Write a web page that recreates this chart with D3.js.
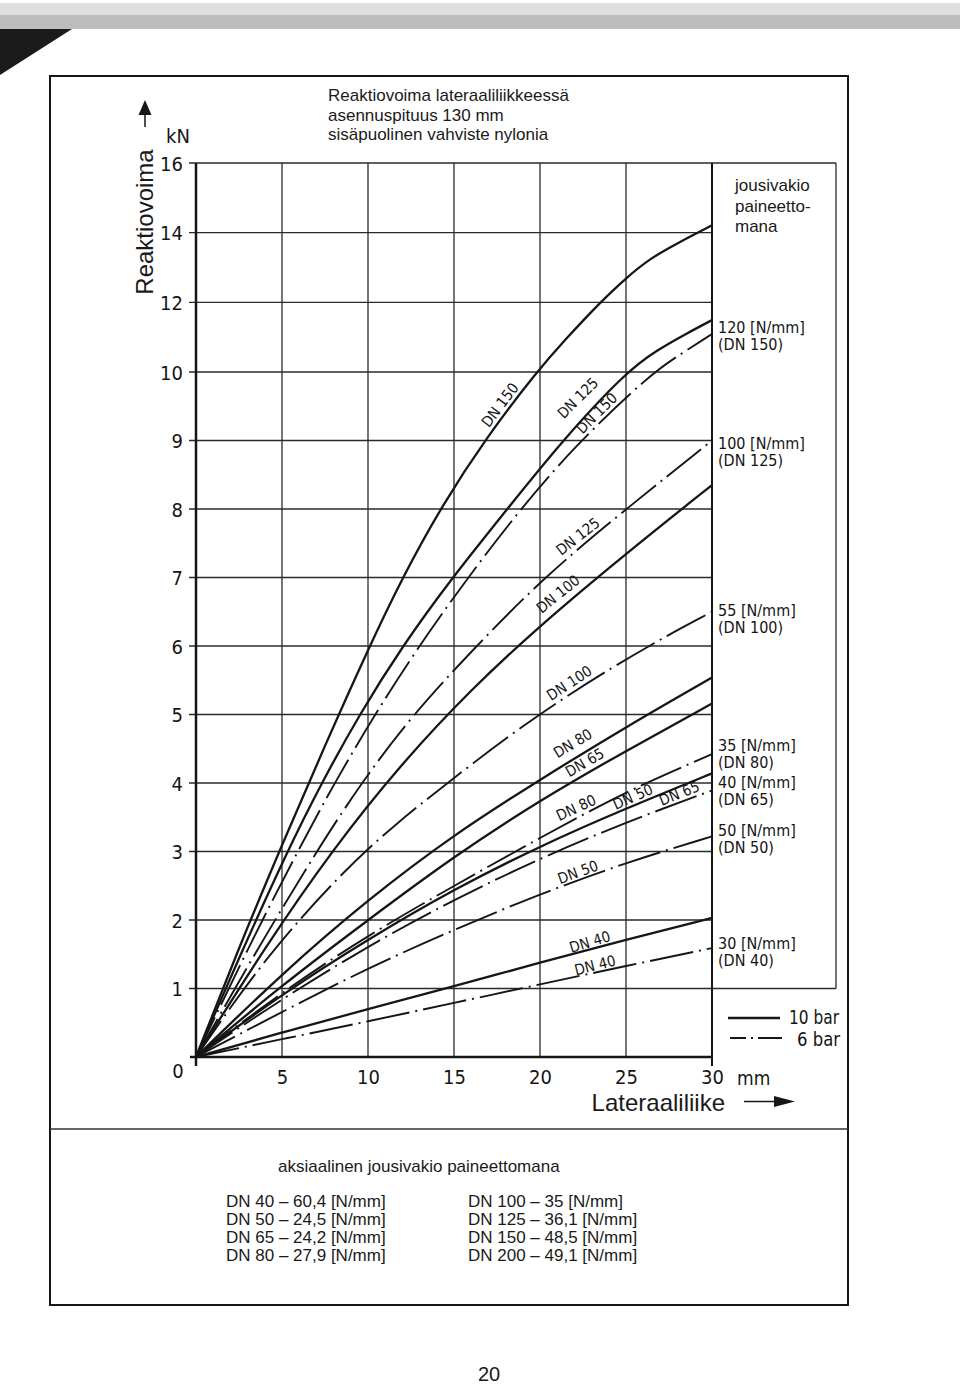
<!DOCTYPE html>
<html>
<head>
<meta charset="utf-8">
<script src="https://cdn.jsdelivr.net/npm/d3@7"></script>
<style>
  body { margin: 0; background: #fff; }
  svg { display: block; }
  .din { font-family: 'Liberation Sans Narrow', 'DejaVu Sans Condensed', sans-serif; fill: #151515; }
  .arial { font-family: 'Liberation Sans', Arial, sans-serif; fill: #1a1a1a; }
</style>
</head>
<body>
<svg id="chart" width="960" height="1386"></svg>
<script>
/* Reaktiovoima vs lateraaliliike: 10 bar (solid) and 6 bar (dash-dot) curves per DN */
(function () {
  // --- Data: [lateral movement mm, reaction force kN] ---
  const X_TICKS = [5, 10, 15, 20, 25, 30];
  const Y_TICKS = [1, 2, 3, 4, 5, 6, 7, 8, 9, 10, 12, 14, 16];

  // 10 bar (solid)
  const dn150_10bar = [[0,0],[2.5,1.6],[5,3.1],[7.5,4.55],[10,5.95],[12,7],[14.3,8.05],[16.9,9.05],[19.8,10],[21.5,10.95],[23.5,12],[25,12.7],[26.4,13.26],[28,13.7],[30,14.21]];
  const dn125_10bar = [[0,0],[2.5,1.45],[5.3,3],[7.3,4],[9.5,5],[12,6],[14.9,7],[18.1,8],[21.3,9],[25,10],[26.8,10.63],[28.5,11.1],[30,11.49]];
  const dn100_10bar = [[0,0],[4,1.6],[8,3.05],[12,4.3],[16,5.37],[20,6.3],[25,7.35],[30,8.35]];
  const dn80_10bar  = [[0,0],[5,1.22],[10,2.3],[15,3.25],[20,4.05],[25,4.82],[30,5.54]];
  const dn65_10bar  = [[0,0],[5,1.05],[10,2.0],[15,2.93],[20,3.75],[25,4.47],[30,5.16]];
  const dn50_10bar  = [[0,0],[5,0.92],[10,1.72],[15,2.45],[20,3.08],[25,3.63],[30,4.14]];
  const dn40_10bar  = [[0,0],[5,0.36],[10,0.70],[15,1.03],[20,1.38],[25,1.71],[30,2.03]];

  // 6 bar (dash-dot)
  const dn150_6bar = [[0,0],[3,1.58],[5.9,3],[8.2,4.07],[10.5,5.04],[12.8,5.94],[15.6,6.93],[18.7,7.95],[21.9,8.89],[26.4,9.97],[28.3,10.55],[30,11.09]];
  const dn125_6bar = [[0,0],[3.5,1.55],[7,3],[9.6,4],[12.6,5],[16.3,6],[20.2,7],[25,8],[30,9.0]];
  const dn100_6bar = [[0,0],[4,1.45],[8.5,2.7],[11.5,3.38],[14.6,4],[19.8,5],[25.8,5.94],[30,6.5]];
  const dn80_6bar  = [[0,0],[5,0.95],[10,1.78],[15,2.5],[20,3.2],[25,3.88],[30,4.42]];
  const dn65_6bar  = [[0,0],[5,0.85],[10,1.62],[15,2.3],[20,2.9],[25,3.43],[30,3.89]];
  const dn50_6bar  = [[0,0],[5,0.66],[10,1.3],[15,1.86],[20,2.38],[25,2.84],[30,3.22]];
  const dn40_6bar  = [[0,0],[5,0.26],[10,0.52],[15,0.79],[20,1.06],[25,1.33],[30,1.59]];

  // spring rate at the right edge (6 bar curves)
  const RATE_VALUES = [120, 100, 55, 35, 40, 50, 30];
  const RATE_DN     = ["DN 150", "DN 125", "DN 100", "DN 80", "DN 65", "DN 50", "DN 40"];
  const RATE_KN     = [11.29, 8.96, 6.53, 4.55, 4.01, 3.31, 1.66];

  // axial spring rate table
  const AXIAL_LEFT  = ["DN 40 – 60,4 [N/mm]", "DN 50 – 24,5 [N/mm]", "DN 65 – 24,2 [N/mm]", "DN 80 – 27,9 [N/mm]"];
  const AXIAL_RIGHT = ["DN 100 – 35 [N/mm]", "DN 125 – 36,1 [N/mm]", "DN 150 – 48,5 [N/mm]", "DN 200 – 49,1 [N/mm]"];

  const TITLE = ["Reaktiovoima lateraaliliikkeessä", "asennuspituus 130 mm", "sisäpuolinen vahviste nylonia"];

  const series = [
    { dn: "DN 150", bar: 10, pts: dn150_10bar, lab: [17.67, 9.52, -53] },
    { dn: "DN 125", bar: 10, pts: dn125_10bar, lab: [22.2, 9.62, -45] },
    { dn: "DN 100", bar: 10, pts: dn100_10bar, lab: [21.05, 6.76, -39] },
    { dn: "DN 80",  bar: 10, pts: dn80_10bar,  lab: [21.9, 4.58, -31] },
    { dn: "DN 65",  bar: 10, pts: dn65_10bar,  lab: [22.6, 4.3, -30] },
    { dn: "DN 50",  bar: 10, pts: dn50_10bar,  lab: [25.4, 3.8, -24] },
    { dn: "DN 40",  bar: 10, pts: dn40_10bar,  lab: [22.9, 1.68, -17] },
    { dn: "DN 150", bar: 6,  pts: dn150_6bar,  lab: [23.3, 9.4, -45] },
    { dn: "DN 125", bar: 6,  pts: dn125_6bar,  lab: [22.2, 7.6, -38] },
    { dn: "DN 100", bar: 6,  pts: dn100_6bar,  lab: [21.7, 5.46, -33] },
    { dn: "DN 80",  bar: 6,  pts: dn80_6bar,   lab: [22.1, 3.64, -25] },
    { dn: "DN 65",  bar: 6,  pts: dn65_6bar,   lab: [28.1, 3.85, -22] },
    { dn: "DN 50",  bar: 6,  pts: dn50_6bar,   lab: [22.2, 2.7, -20] },
    { dn: "DN 40",  bar: 6,  pts: dn40_6bar,   lab: [23.2, 1.34, -14] }
  ];

  const INK = "#161616";
  const DASHDOT = "44,6,2,6";
  const svg = d3.select("#chart");

  // 1) Page furniture
  svg.append("rect").attr("x", 0).attr("y", 3).attr("width", 960).attr("height", 12).attr("fill", "#dedfe1");
  svg.append("rect").attr("x", 0).attr("y", 15).attr("width", 960).attr("height", 14).attr("fill", "#bcbdbf");
  svg.append("path").attr("d", "M0,29L72,29L0,75Z").attr("fill", "#1b1b1b");
  svg.append("rect").attr("x", 50).attr("y", 76).attr("width", 798).attr("height", 1229)
    .attr("fill", "none").attr("stroke", INK).attr("stroke-width", 2);
  svg.append("line").attr("x1", 50).attr("x2", 848).attr("y1", 1129).attr("y2", 1129)
    .attr("stroke", "#333").attr("stroke-width", 1.5);

  // 2) Scales (y grid is even but labels jump by 2 above 10 kN)
  const x = d3.scaleLinear().domain([0, 30]).range([196, 712]);
  const y = d3.scaleLinear().domain([0, 10, 16]).range([1057, 372, 163]);

  // 3) Grid
  const g = svg.append("g");
  g.selectAll("line.vgrid")
    .data(X_TICKS.filter(d => d < 30))
    .join("line")
    .attr("class", "vgrid")
    .attr("x1", d => x(d)).attr("x2", d => x(d))
    .attr("y1", y(16)).attr("y2", y(0))
    .attr("stroke", "#2a2a2a").attr("stroke-width", 1.3);

  g.selectAll("line.hgrid")
    .data(Y_TICKS)
    .join("line")
    .attr("class", "hgrid")
    .attr("x1", x(0) - 7)
    .attr("x2", d => (d === 16 || d === 1) ? 836 : x(30))
    .attr("y1", d => y(d)).attr("y2", d => y(d))
    .attr("stroke", "#2a2a2a").attr("stroke-width", 1.3);

  // side panel right edge
  g.append("line").attr("x1", 836).attr("x2", 836).attr("y1", y(16)).attr("y2", y(1))
    .attr("stroke", "#2a2a2a").attr("stroke-width", 1.3);

  // 4) Axes
  g.append("line").attr("x1", x(0)).attr("x2", x(0)).attr("y1", y(16)).attr("y2", y(0) + 9)
    .attr("stroke", INK).attr("stroke-width", 2.5);
  g.append("line").attr("x1", x(30)).attr("x2", x(30)).attr("y1", y(16)).attr("y2", y(0) + 9)
    .attr("stroke", INK).attr("stroke-width", 2);
  g.append("line").attr("x1", x(0) - 6).attr("x2", x(30)).attr("y1", y(0)).attr("y2", y(0))
    .attr("stroke", INK).attr("stroke-width", 2.5);

  const yAxis = d3.axisLeft(y).tickValues(Y_TICKS).tickSize(0).tickPadding(13);
  const yG = svg.append("g").attr("transform", `translate(${x(0)},0)`).call(yAxis);
  yG.select(".domain").remove();
  yG.selectAll("text").attr("class", "din").attr("font-size", 20).attr("dy", "0.36em");

  const xAxis = d3.axisBottom(x).tickValues(X_TICKS).tickSize(0).tickPadding(13);
  const xG = svg.append("g").attr("transform", `translate(0,${y(0)})`).call(xAxis);
  xG.select(".domain").remove();
  xG.selectAll("text").attr("class", "din").attr("font-size", 20);

  svg.append("text").attr("class", "din").attr("x", 178).attr("y", 1078)
    .attr("text-anchor", "middle").attr("font-size", 20).text("0");
  svg.append("text").attr("class", "din").attr("x", 737).attr("y", 1085)
    .attr("font-size", 19).text("mm");
  svg.append("text").attr("class", "din").attr("x", 178).attr("y", 143)
    .attr("text-anchor", "middle").attr("font-size", 20).text("kN");

  // axis titles with arrows
  svg.append("text").attr("class", "arial")
    .attr("transform", "translate(153,222) rotate(-90)")
    .attr("text-anchor", "middle").attr("font-size", 24).text("Reaktiovoima");
  svg.append("line").attr("x1", 145).attr("x2", 145).attr("y1", 110).attr("y2", 127)
    .attr("stroke", INK).attr("stroke-width", 1.5);
  svg.append("path").attr("d", "M145,100L138.5,115L151.5,115Z").attr("fill", INK);

  svg.append("text").attr("class", "arial").attr("x", 725).attr("y", 1111)
    .attr("text-anchor", "end").attr("font-size", 24).text("Lateraaliliike");
  svg.append("line").attr("x1", 744).attr("x2", 778).attr("y1", 1101.5).attr("y2", 1101.5)
    .attr("stroke", INK).attr("stroke-width", 1.5);
  svg.append("path").attr("d", "M774,1096L795,1101.5L774,1107Z").attr("fill", INK);

  // 5) Curves (smooth hand-drawn look)
  const line = d3.line()
    .x(d => x(d[0]))
    .y(d => y(d[1]))
    .curve(d3.curveBasis);

  svg.append("g").selectAll("path.curve")
    .data(series)
    .join("path")
    .attr("class", "curve")
    .attr("d", d => line(d.pts))
    .attr("fill", "none")
    .attr("stroke", INK)
    .attr("stroke-width", d => d.bar === 10 ? 2.3 : 1.9)
    .attr("stroke-dasharray", d => d.bar === 10 ? null : DASHDOT)
    .attr("stroke-linecap", "butt");

  // curve labels
  svg.append("g").selectAll("text.dnlab")
    .data(series)
    .join("text")
    .attr("class", "din dnlab")
    .attr("font-size", 15)
    .attr("text-anchor", "middle")
    .attr("transform", d => `translate(${x(d.lab[0])},${y(d.lab[1])}) rotate(${d.lab[2]})`)
    .attr("dy", "0.35em")
    .text(d => d.dn);

  // 6) Spring rate labels at right edge
  const rates = RATE_VALUES.map((v, i) => ({ v, dn: RATE_DN[i], kn: RATE_KN[i] }));
  const rg = svg.append("g").selectAll("g").data(rates).join("g")
    .attr("transform", d => `translate(718,${y(d.kn)})`);
  rg.append("text").attr("class", "din").attr("font-size", 16).attr("y", 6)
    .text(d => `${d.v} [N/mm]`);
  rg.append("text").attr("class", "din").attr("font-size", 16).attr("y", 23)
    .text(d => `(${d.dn})`);

  svg.append("g").selectAll("text").data(["jousivakio", "paineetto-", "mana"]).join("text")
    .attr("class", "arial").attr("font-size", 17)
    .attr("x", 735).attr("y", (d, i) => 191 + i * 20.5).text(d => d);

  // 7) Legend
  svg.append("line").attr("x1", 728).attr("x2", 780).attr("y1", 1018).attr("y2", 1018)
    .attr("stroke", INK).attr("stroke-width", 2.3);
  svg.append("line").attr("x1", 730).attr("x2", 782).attr("y1", 1038).attr("y2", 1038)
    .attr("stroke", INK).attr("stroke-width", 2).attr("stroke-dasharray", "16,5,2,5,30");
  svg.append("text").attr("class", "din").attr("x", 789).attr("y", 1024).attr("font-size", 19)
    .attr("textLength", 50).attr("lengthAdjust", "spacingAndGlyphs").text("10 bar");
  svg.append("text").attr("class", "din").attr("x", 797).attr("y", 1046).attr("font-size", 19)
    .attr("textLength", 43).attr("lengthAdjust", "spacingAndGlyphs").text("6 bar");

  // 8) Title
  svg.append("g").selectAll("text").data(TITLE).join("text")
    .attr("class", "arial").attr("font-size", 17)
    .attr("x", 328).attr("y", (d, i) => 101 + i * 19.5).text(d => d);

  // 9) Axial spring rates below the chart
  svg.append("text").attr("class", "arial").attr("font-size", 17)
    .attr("x", 278).attr("y", 1172).text("aksiaalinen jousivakio paineettomana");
  svg.append("g").selectAll("text").data(AXIAL_LEFT).join("text")
    .attr("class", "arial").attr("font-size", 17)
    .attr("x", 226).attr("y", (d, i) => 1207 + i * 18).text(d => d);
  svg.append("g").selectAll("text").data(AXIAL_RIGHT).join("text")
    .attr("class", "arial").attr("font-size", 17)
    .attr("x", 468).attr("y", (d, i) => 1207 + i * 18).text(d => d);

  svg.append("text").attr("class", "arial").attr("font-size", 20)
    .attr("x", 489).attr("y", 1381).attr("text-anchor", "middle").text("20");
})();
</script>
</body>
</html>
